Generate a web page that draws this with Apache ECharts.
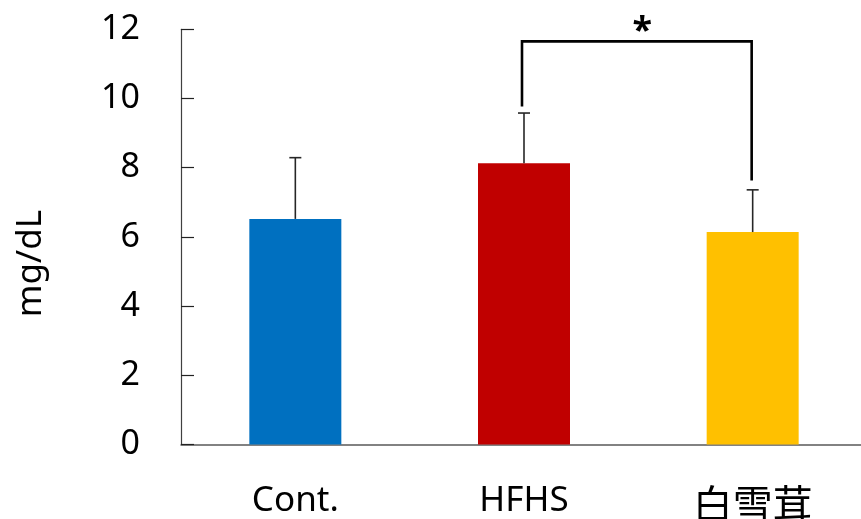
<!DOCTYPE html>
<html><head><meta charset="utf-8">
<script src="https://cdn.jsdelivr.net/npm/echarts@6/dist/echarts.min.js"></script>
<style>html,body{margin:0;padding:0;background:#fff}#c{width:861px;height:519px}</style>
</head><body><div id="c"></div>
<script>
const categories = ['Cont.', 'HFHS', '白雪茸'];
const means = [6.52, 8.13, 6.14];
const errorTops = [8.29, 9.58, 7.36];
const barColors = ['#0070C0', '#C00000', '#FFC000'];
const yTicks = [0, 2, 4, 6, 8, 10, 12];
// significance bracket between HFHS and 白雪茸
const bracketPair = [1, 2];
const bracketTop = 11.65;
const bracketLegBottoms = [9.77, 7.63];
const sigMark = '*';

const chart = echarts.init(document.getElementById('c'));
const FONT = 'Noto Sans, "Noto Sans CJK SC", sans-serif';
chart.setOption({
  animation: false,
  grid: { left: 181, top: 29.3, width: 686, height: 415.2, containLabel: false, outerBoundsMode: 'none' },
  xAxis: {
    type: 'category', data: categories,
    axisLine: { lineStyle: { color: '#595959', width: 1.5 } },
    axisTick: { show: false },
    axisLabel: {
      interval: 0, margin: 39, fontSize: 35, color: '#000', fontFamily: FONT, hideOverlap: false,
      formatter: v => /[\u4e00-\u9fff]/.test(v) ? '{cjk|' + v + '}' : v,
      rich: { cjk: { fontSize: 40, fontFamily: '"Noto Sans CJK SC"', color: '#000' } }
    }
  },
  yAxis: {
    type: 'value', min: yTicks[0], max: yTicks[yTicks.length - 1], interval: 2,
    axisLine: { show: true, lineStyle: { color: '#404040', width: 1.2 } },
    axisTick: { show: true, inside: true, length: 13, lineStyle: { color: '#222', width: 1.2 } },
    splitLine: { show: false },
    axisLabel: { margin: 41, fontSize: 34, color: '#000', fontFamily: FONT }
  },
  graphic: [{
    type: 'text', left: 14, top: 210, rotation: Math.PI / 2,
    style: { text: 'mg/dL', fontSize: 35, fontFamily: FONT, fill: '#000' }
  }],
  series: [
    {
      type: 'bar', barWidth: 92,
      data: means.map((v, i) => ({ value: v, itemStyle: { color: barColors[i] } })),
      z: 2
    },
    {
      type: 'custom', z: 3,
      data: errorTops.map((t, i) => [i, means[i], t]),
      renderItem: (params, api) => {
        const p0 = api.coord([api.value(0), api.value(1)]);
        const p1 = api.coord([api.value(0), api.value(2)]);
        const hw = 6;
        return { type: 'group', children: [
          { type: 'line', shape: { x1: p0[0], y1: p0[1], x2: p1[0], y2: p1[1] }, style: { stroke: '#262626', lineWidth: 1.6 } },
          { type: 'line', shape: { x1: p1[0] - hw, y1: p1[1], x2: p1[0] + hw, y2: p1[1] }, style: { stroke: '#262626', lineWidth: 1.6 } }
        ]};
      }
    },
    {
      type: 'custom', z: 4,
      data: [[bracketPair[0], bracketPair[1], bracketLegBottoms[0], bracketLegBottoms[1], bracketTop]],
      renderItem: (params, api) => {
        const a = api.coord([api.value(0), api.value(2)]);
        const b = api.coord([api.value(1), api.value(3)]);
        const ta = api.coord([api.value(0), api.value(4)]);
        const tb = api.coord([api.value(1), api.value(4)]);
        return { type: 'group', children: [
          { type: 'polyline', shape: { points: [[a[0] - 2, a[1]], [ta[0] - 2, ta[1]], [tb[0] - 1, tb[1]], [b[0] - 1, b[1]]] },
            style: { stroke: '#000', lineWidth: 2.6, fill: null } },
          { type: 'text', x: (ta[0] + tb[0]) / 2 + 4, y: ta[1] + 8,
            style: { text: sigMark, fontSize: 36, fontWeight: 'bold', fontFamily: FONT, fill: '#000', align: 'center', verticalAlign: 'bottom' } }
        ]};
      }
    }
  ]
});
</script></body></html>
